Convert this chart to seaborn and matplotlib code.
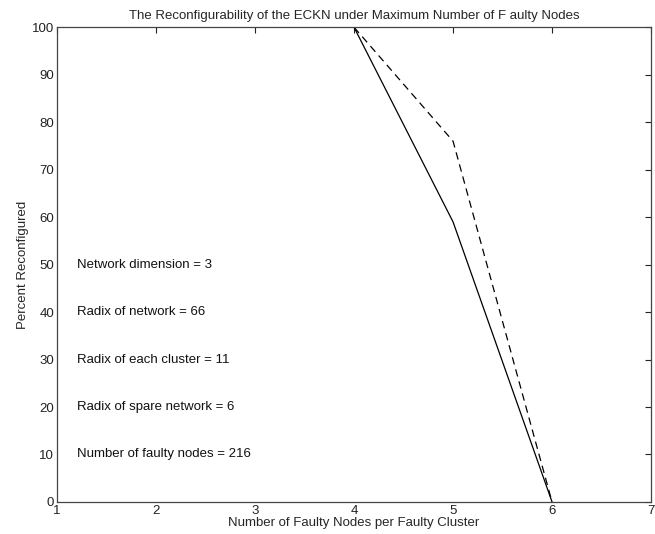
import matplotlib
matplotlib.use("Agg")
import matplotlib.pyplot as plt
import seaborn as sns
import pandas as pd

faulty_per_cluster = [4, 5, 6]
solid_pct = [100, 59, 0]
dashed_pct = [100, 76, 0]
notes = ["Network dimension = 3", "Radix of network = 66", "Radix of each cluster = 11",
         "Radix of spare network = 6", "Number of faulty nodes = 216"]
note_y = [50, 40, 30, 20, 10]
xticks = [1, 2, 3, 4, 5, 6, 7]
yticks = [0, 10, 20, 30, 40, 50, 60, 70, 80, 90, 100]

sns.set_theme(style="white")
plt.rcParams['font.family'] = ['Liberation Sans', 'DejaVu Sans']

fig = plt.figure(figsize=(6.55, 5.34), dpi=100)
ax = fig.add_axes([0.087, 0.06, 0.907, 0.889])

df = pd.DataFrame({"x": faulty_per_cluster, "solid": solid_pct, "dashed": dashed_pct})
sns.lineplot(data=df, x="x", y="solid", ax=ax, color="black", lw=0.9)
sns.lineplot(data=df, x="x", y="dashed", ax=ax, color="black", lw=0.9, linestyle=(0, (6, 4)))

for t, y in zip(notes, note_y):
    ax.text(1.2, y, t, fontsize=9.5, va="center", ha="left", color="#111111")

ax.set_xlim(1, 7)
ax.set_ylim(0, 100)
ax.set_xticks(xticks)
ax.set_yticks(yticks)
ax.tick_params(direction="in", top=True, right=True, labelsize=9.5, length=4, width=0.8, colors="#222222")
ax.tick_params(axis="x", pad=2)
ax.tick_params(axis="y", pad=2)
for s in ax.spines.values():
    s.set_color("#444444")
    s.set_linewidth(0.9)
ax.set_xlabel("Number of Faulty Nodes per Faulty Cluster", fontsize=9.5, labelpad=0)
ax.set_ylabel("Percent Reconfigured", fontsize=9.5, labelpad=2)
ax.set_title("The Reconfigurability of the ECKN under Maximum Number of F aulty Nodes", fontsize=9.5, pad=6)

fig.savefig("out.png", dpi=100)
